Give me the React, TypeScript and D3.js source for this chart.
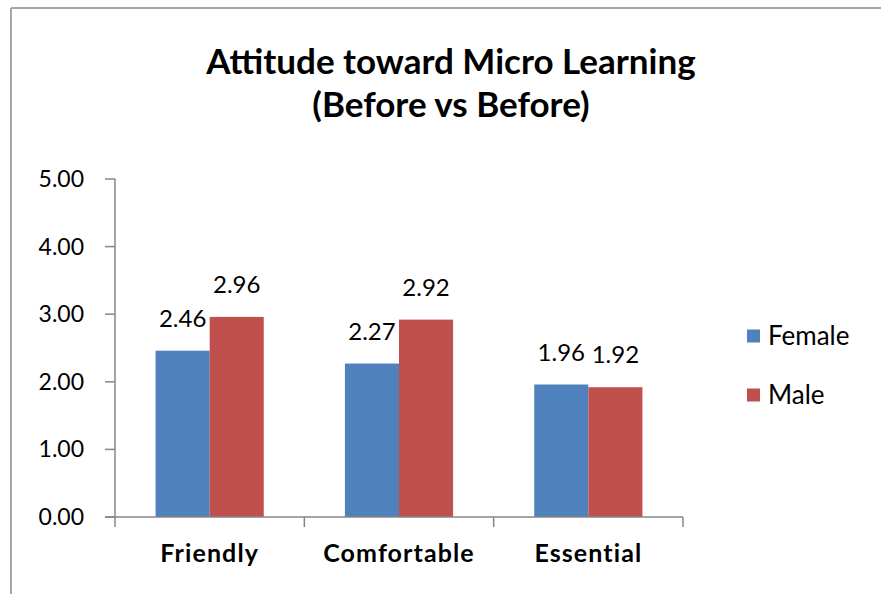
import React from "react";
import * as d3 from "d3";

const categories = ["Friendly", "Comfortable", "Essential"];
const seriesNames = ["Female", "Male"];
const female = [2.46, 2.27, 1.96];
const male = [2.96, 2.92, 1.92];
const yTicks = [0, 1, 2, 3, 4, 5];
const colors = ["#4F81BD", "#C0504D"];
const titleLines = ["Attitude toward Micro Learning", "(Before vs Before)"];

const W = 881;
const H = 594;
const plot = { left: 115, right: 683, top: 179, bottom: 517 };
const FONT = "Lato, 'Open Sans', sans-serif";

export default function App() {
  const x = d3
    .scaleBand<string>()
    .domain(categories)
    .range([plot.left, plot.right])
    .paddingInner(0)
    .paddingOuter(0);
  const y = d3.scaleLinear().domain([0, 5]).range([plot.bottom, plot.top]);
  const groupW = x.bandwidth();
  const barW = groupW / (2 + 1.5);
  const sub = d3
    .scaleBand<string>()
    .domain(seriesNames)
    .range([(groupW - 2 * barW) / 2, (groupW + 2 * barW) / 2]);
  const values = [female, male];
  const axisColor = "#868686";

  return (
    <svg
      width={W}
      height={H}
      style={{ position: "absolute", left: 0, top: 0, background: "#fff" }}
    >
      <rect x={0} y={0} width={W} height={H} fill="#fff" />
      <line x1={11} y1={8} x2={W} y2={8} stroke="#a6a6a6" strokeWidth={2} />
      <line x1={11} y1={8} x2={11} y2={H} stroke="#a6a6a6" strokeWidth={2} />

      <g fontFamily={FONT} fontWeight={700} fontSize={35} fill="#000" textAnchor="middle">
        {titleLines.map((t, i) => (
          <text key={t} x={451} y={74 + i * 43}>
            {t}
          </text>
        ))}
      </g>

      {/* bars */}
      {categories.map((c, ci) =>
        seriesNames.map((s, si) => {
          const v = values[si][ci];
          const bx = (x(c) as number) + (sub(s) as number);
          return (
            <rect
              key={c + s}
              x={bx}
              y={y(v)}
              width={barW}
              height={y(0) - y(v)}
              fill={colors[si]}
            />
          );
        })
      )}

      {/* data labels */}
      <g fontFamily={FONT} fontSize={24} fill="#000" textAnchor="middle">
        {categories.map((c, ci) =>
          seriesNames.map((s, si) => {
            const v = values[si][ci];
            const bx = (x(c) as number) + (sub(s) as number) + barW / 2;
            return (
              <text key={c + s + "l"} x={bx} y={y(v) - 24}>
                {v.toFixed(2)}
              </text>
            );
          })
        )}
      </g>

      {/* y axis */}
      <line x1={plot.left} y1={plot.top} x2={plot.left} y2={plot.bottom} stroke={axisColor} strokeWidth={1.5} />
      {yTicks.map((t) => (
        <g key={t}>
          <line x1={plot.left - 10} x2={plot.left} y1={y(t)} y2={y(t)} stroke={axisColor} strokeWidth={1.5} />
          <text
            x={plot.left - 31}
            y={y(t)}
            dy="0.35em"
            textAnchor="end"
            fontFamily={FONT}
            fontSize={23}
            fill="#000"
          >
            {t.toFixed(2)}
          </text>
        </g>
      ))}

      {/* x axis */}
      <line x1={plot.left - 10} y1={plot.bottom} x2={plot.right} y2={plot.bottom} stroke={axisColor} strokeWidth={1.5} />
      {[...categories.map((c) => x(c) as number), plot.right].map((tx, i) => (
        <line key={i} x1={tx} x2={tx} y1={plot.bottom} y2={plot.bottom + 10} stroke={axisColor} strokeWidth={1.5} />
      ))}
      {categories.map((c) => (
        <text
          key={c}
          x={(x(c) as number) + groupW / 2}
          y={562}
          textAnchor="middle"
          fontFamily={FONT}
          fontWeight={700}
          fontSize={25}
          letterSpacing={1.1}
          fill="#000"
        >
          {c}
        </text>
      ))}

      {/* legend */}
      {seriesNames.map((s, i) => (
        <g key={s} transform={`translate(747, ${336 + i * 59})`}>
          <rect x={0} y={-6.5} width={13} height={13} fill={colors[i]} />
          <text x={21} y={0} dy="0.35em" fontFamily={FONT} fontSize={26} fill="#000">
            {s}
          </text>
        </g>
      ))}
    </svg>
  );
}
